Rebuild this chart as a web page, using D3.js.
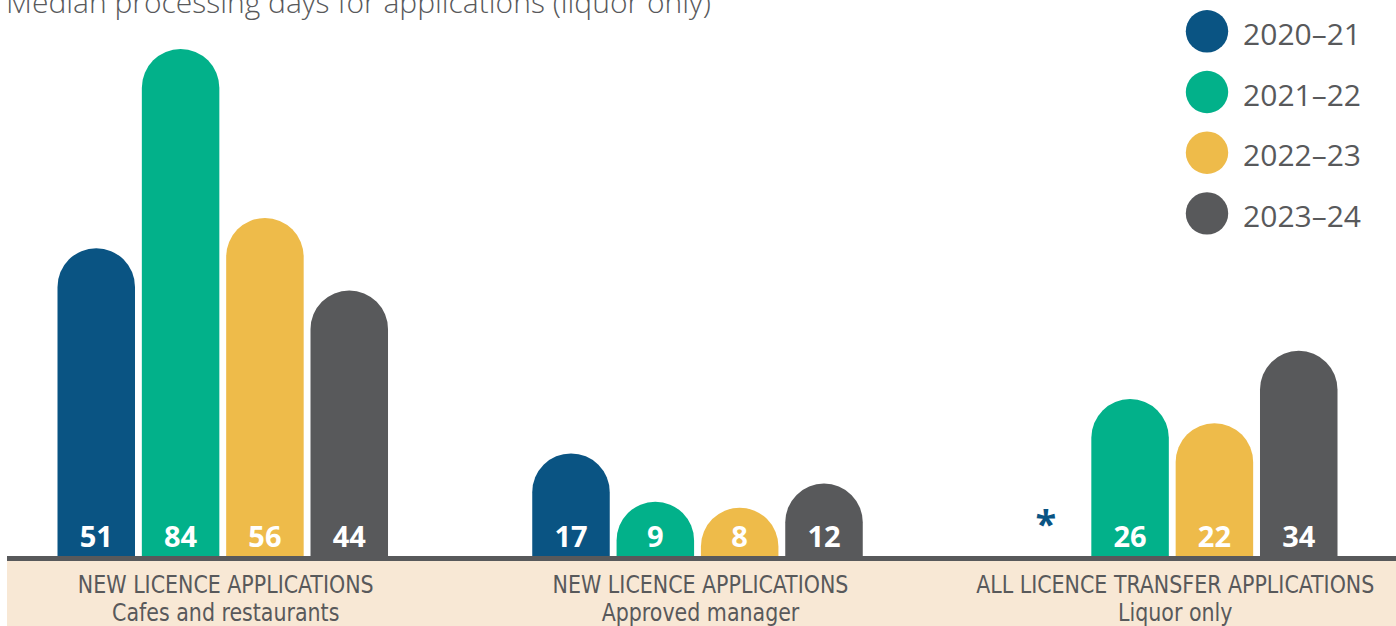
<!DOCTYPE html>
<html>
<head>
<meta charset="utf-8">
<script src="https://cdn.jsdelivr.net/npm/d3@7"></script>
<style>
  html, body { margin: 0; padding: 0; background: #fff; overflow: hidden; }
  svg { display: block; }
</style>
</head>
<body>
<svg width="1396" height="626"></svg>
<script>
// data
var title = "Median processing days for applications (liquor only)";
var groups = ["cafes", "manager", "transfer"];
var groupTitles = ["NEW LICENCE APPLICATIONS", "NEW LICENCE APPLICATIONS", "ALL LICENCE TRANSFER APPLICATIONS"];
var groupSubtitles = ["Cafes and restaurants", "Approved manager", "Liquor only"];
var seasons = ["2020–21", "2021–22", "2022–23", "2023–24"];
var values2020_21 = [51, 17, null];   // null = no data (shown as *)
var values2021_22 = [84, 9, 26];
var values2022_23 = [56, 8, 22];
var values2023_24 = [44, 12, 34];

var colors = ["#0a5483", "#02b18a", "#eebb4a", "#58595b"];
var textGrey = "#58595b";

var svg = d3.select("svg"),
    width = +svg.attr("width"),
    height = +svg.attr("height");

var baseY = 556;

// build rows for the library
var seriesValues = [values2020_21, values2021_22, values2022_23, values2023_24];
var rows = [];
groups.forEach(function (g, gi) {
    seasons.forEach(function (s, si) {
        rows.push({ group: g, season: s, value: seriesValues[si][gi] });
    });
});

var x0 = d3.scaleBand()
    .domain(groups)
    .range([57.5, 1337.5])
    .paddingInner(0.3038)
    .paddingOuter(0);

var x1 = d3.scaleBand()
    .domain(seasons)
    .range([0, x0.bandwidth()])
    .paddingInner(0.081);

var y = d3.scaleLinear()
    .domain([0, 84])
    .range([baseY, 49]);

var color = d3.scaleOrdinal()
    .domain(seasons)
    .range(colors);

// title (cut at the top like the source)
svg.append("text")
    .attr("x", 6)
    .attr("y", 13)
    .attr("fill", textGrey)
    .style("font-family", "'Open Sans', sans-serif")
    .style("font-weight", 300)
    .style("font-size", "30px")
    .text(title);

// beige band
svg.append("rect")
    .attr("x", 7)
    .attr("y", baseY + 4)
    .attr("width", width - 7)
    .attr("height", height - baseY - 4)
    .attr("fill", "#f8e8d5");

// bars with round tops
function barPath(d) {
    var x = x0(d.group) + x1(d.season),
        w = x1.bandwidth(),
        r = w / 2,
        top = y(d.value),
        h = baseY - top,
        ry = Math.min(r, h);
    return "M" + x + "," + baseY +
        "L" + x + "," + (top + ry) +
        "A" + r + "," + ry + " 0 0 1 " + (x + w) + "," + (top + ry) +
        "L" + (x + w) + "," + baseY + "Z";
}

var bars = svg.append("g").attr("class", "bars");

bars.selectAll("path")
    .data(rows.filter(function (d) { return d.value != null; }))
    .enter().append("path")
    .attr("d", barPath)
    .attr("fill", function (d) { return color(d.season); });

// base line
svg.append("rect")
    .attr("x", 7)
    .attr("y", baseY)
    .attr("width", width - 7)
    .attr("height", 5)
    .attr("fill", textGrey);

// value labels
bars.selectAll("text")
    .data(rows)
    .enter().append("text")
    .attr("x", function (d) { return x0(d.group) + x1(d.season) + x1.bandwidth() / 2; })
    .attr("y", function (d) { return d.value == null ? 538 : 547; })
    .attr("text-anchor", "middle")
    .attr("fill", function (d) { return d.value == null ? color(d.season) : "#fff"; })
    .style("font-family", "'Open Sans', sans-serif")
    .style("font-weight", 700)
    .style("font-size", function (d) { return d.value == null ? "38px" : "29px"; })
    .text(function (d) { return d.value == null ? "*" : d.value; });

// category labels (squeezed a bit, source uses a condensed face)
var labels = svg.append("g")
    .selectAll("g")
    .data(groups)
    .enter().append("g")
    .attr("transform", function (d) { return "translate(" + (x0(d) + x0.bandwidth() / 2 + 3) + ",0) scale(0.915,1)"; });

labels.append("text")
    .attr("y", 593)
    .attr("text-anchor", "middle")
    .attr("fill", textGrey)
    .style("font-family", "'DejaVu Sans Condensed', 'DejaVu Sans', sans-serif")
    .style("font-stretch", "condensed")
    .style("font-size", "25px")
    .text(function (d, i) { return groupTitles[i]; });

labels.append("text")
    .attr("y", 621)
    .attr("text-anchor", "middle")
    .attr("fill", textGrey)
    .style("font-family", "'DejaVu Sans Condensed', 'DejaVu Sans', sans-serif")
    .style("font-stretch", "condensed")
    .style("font-size", "25px")
    .text(function (d, i) { return groupSubtitles[i]; });

// legend
var legend = svg.append("g")
    .selectAll("g")
    .data(seasons)
    .enter().append("g")
    .attr("transform", function (d, i) { return "translate(0," + (31.3 + i * 60.7) + ")"; });

legend.append("circle")
    .attr("cx", 1207)
    .attr("r", 21.2)
    .attr("fill", function (d) { return color(d); });

legend.append("text")
    .attr("x", 1361)
    .attr("y", 13.5)
    .attr("text-anchor", "end")
    .attr("fill", textGrey)
    .style("font-family", "'Open Sans', sans-serif")
    .style("font-size", "30px")
    .text(function (d) { return d; });
</script>
</body>
</html>
